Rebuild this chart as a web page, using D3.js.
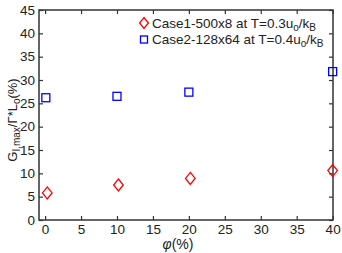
<!DOCTYPE html>
<html><head><meta charset="utf-8">
<script src="https://cdn.jsdelivr.net/npm/d3@7"></script>
<style>body{margin:0;background:#fff}svg{display:block}text{font-family:"Liberation Sans",Arial,sans-serif}</style>
</head><body>
<svg id="c" width="342" height="253"></svg>
<script>
const xTicks = [0,5,10,15,20,25,30,35,40];
const yTicks = [0,5,10,15,20,25,30,35,40,45];
const case1X = [0.3,10.2,20.2,40];
const case1Y = [5.8,7.5,8.9,10.6];
const case2X = [0.1,10,20,40];
const case2Y = [26.2,26.5,27.4,31.8];

const svg = d3.select("#c");
const L=39,R=333,T=10,B=220;
const x = d3.scaleLinear().domain([-0.85,40.05]).range([L,R]);
const y = d3.scaleLinear().domain([0,45]).range([B,T]);
const ax="#333";
svg.append("rect").attr("x",L).attr("y",T).attr("width",R-L).attr("height",B-T).attr("fill","none").attr("stroke",ax).attr("stroke-width",1.5);
const tl=4;
const gx=svg.append("g").attr("transform",`translate(0,${B})`).call(d3.axisBottom(x).tickValues(xTicks).tickSizeInner(-tl).tickSizeOuter(0).tickPadding(4));
const gxt=svg.append("g").attr("transform",`translate(0,${T})`).call(d3.axisTop(x).tickValues(xTicks).tickSizeInner(-tl).tickSizeOuter(0).tickFormat(""));
const gy=svg.append("g").attr("transform",`translate(${L},0)`).call(d3.axisLeft(y).tickValues(yTicks).tickSizeInner(-tl).tickSizeOuter(0).tickPadding(4));
const gyr=svg.append("g").attr("transform",`translate(${R},0)`).call(d3.axisRight(y).tickValues(yTicks).tickSizeInner(-tl).tickSizeOuter(0).tickFormat(""));
[gx,gxt,gy,gyr].forEach(g=>{g.select(".domain").remove();g.selectAll("line").attr("stroke",ax).attr("stroke-width",1.2);g.selectAll("text").attr("font-size",13.5).attr("fill","#222").attr("font-family","Liberation Sans, Arial, sans-serif");});

const diamond=(cx,cy,s)=>`M${cx},${cy-s}L${cx+s*0.8},${cy}L${cx},${cy+s}L${cx-s*0.8},${cy}Z`;
case1X.forEach((v,i)=>svg.append("path").attr("d",diamond(x(v),y(case1Y[i]),6)).attr("fill","none").attr("stroke","#f00").attr("stroke-width",1.3));
case2X.forEach((v,i)=>svg.append("rect").attr("x",x(v)-4).attr("y",y(case2Y[i])-4).attr("width",8).attr("height",8).attr("fill","none").attr("stroke","#00f").attr("stroke-width",1.3));

// legend
svg.append("path").attr("d",diamond(144,23,5.5)).attr("fill","none").attr("stroke","#f00").attr("stroke-width",1.3);
svg.append("rect").attr("x",140.5).attr("y",36).attr("width",7).attr("height",7).attr("fill","none").attr("stroke","#00f").attr("stroke-width",1.3);
const leg=[["Case1-500x8 at T=0.3u","o","/k","B",28],["Case2-128x64 at T=0.4u","o","/k","B",44]];
leg.forEach(d=>{
  const t=svg.append("text").attr("x",152).attr("y",d[4]).attr("font-size",13.5).attr("fill","#222");
  t.append("tspan").text(d[0]);
  t.append("tspan").attr("dy",3).attr("font-size",10).text(d[1]);
  t.append("tspan").attr("dy",-3).text(d[2]);
  t.append("tspan").attr("dy",3).attr("font-size",10).text(d[3]);
});

// y label
const yl=svg.append("text").attr("transform","translate(17,120) rotate(-90)").attr("text-anchor","middle").attr("font-size",13).attr("fill","#222");
yl.append("tspan").text("G");
yl.append("tspan").attr("dy",3).attr("font-size",10).text("I,max");
yl.append("tspan").attr("dy",-3).text("/Γ*L");
yl.append("tspan").attr("dy",3).attr("font-size",10).text("o");
yl.append("tspan").attr("dy",-3).text("(%)");
// x label
const xl=svg.append("text").attr("x",178).attr("y",249).attr("text-anchor","middle").attr("font-size",14).attr("fill","#222");
xl.append("tspan").attr("font-style","italic").text("φ");
xl.append("tspan").text("(%)");
</script>
</body></html>
